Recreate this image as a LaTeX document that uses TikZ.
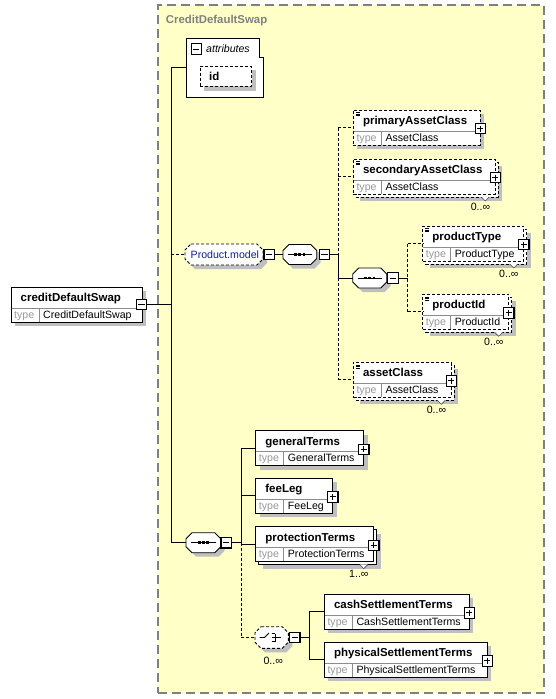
\documentclass[tikz,border=0pt]{standalone}
\usepackage{fontspec}
\setmainfont{Liberation Sans}
\definecolor{bgyellow}{HTML}{FFFFC8}
\definecolor{navytext}{HTML}{10208A}
\tikzset{
 elbox/.style={draw=black, fill=white, line width=0.9pt, inner sep=0pt, outer sep=0pt},
 optb/.style={dash pattern=on 3pt off 2pt},
 dropshadow/.style={fill=black!25},
 divl/.style={draw=black!45, line width=0.6pt},
 pmbox/.style={draw=black, fill=white, line width=1.1pt, minimum size=10.5pt, inner sep=0pt, outer sep=0pt},
 conn/.style={draw=black, line width=0.9pt},
 dconn/.style={conn, dash pattern=on 3pt off 2pt},
 nm/.style={font=\fontsize{11.5}{13}\selectfont\bfseries, inner sep=0pt, anchor=base west},
 ty/.style={font=\fontsize{10.6}{12}\selectfont, text=black!40, inner sep=0pt, anchor=base west},
 tv/.style={font=\fontsize{10.6}{12}\selectfont, inner sep=0pt, anchor=base west},
 mult/.style={font=\fontsize{10.6}{12}\selectfont, inner sep=0pt, anchor=base east},
 anchorbox/.style={inner sep=0pt, outer sep=0pt, anchor=north west},
}
% element box: name, x, y, width, border style, title, type, stacked, icon
\newcommand\elem[9]{%
  \ifnum#8=1
    \fill[dropshadow] (#2+7,#3+7) rectangle ++(#4,35);
    \draw[elbox,#5] (#2+3,#3+3) rectangle ++(#4,35);
  \else
    \fill[dropshadow] (#2+4,#3+4) rectangle ++(#4,35);
  \fi
  \node[elbox,#5,anchorbox,minimum width=#4pt,minimum height=35pt] (#1) at (#2,#3) {};
  \draw[divl] (#2+0.5,#3+21) -- (#2+#4-0.5,#3+21);
  \draw[divl] (#2+28,#3+21) -- (#2+28,#3+34.5);
  \node[nm] (#1-n) at (#2+9.5,#3+14.5) {#6};
  \node[ty] (#1-k) at (#2+3,#3+31) {type};
  \node[tv] (#1-v) at (#2+32,#3+31) {#7};
  \ifnum#9=1
    \draw[line width=0.5pt] (#2+2.5,#3+2.5) -- ++(4,0) (#2+2.5,#3+4) -- ++(4,0) (#2+2.5,#3+5.5) -- ++(4,0);
  \fi
}
\newcommand\plusb[3]{%
  \node[pmbox] (#1) at (#2,#3) {};
  \draw[line width=1pt] ([xshift=2.2pt]#1.west) -- ([xshift=-2.2pt]#1.east)
    ([yshift=-2.2pt]#1.north) -- ([yshift=2.2pt]#1.south);
}
\newcommand\minusb[3]{%
  \node[pmbox] (#1) at (#2,#3) {};
  \draw[line width=1pt] ([xshift=2.2pt]#1.west) -- ([xshift=-2.2pt]#1.east);
}
% multiplicity: name, right x, top y, text
\newcommand\multi[4]{%
  \fill[white] (#2-14,#3+37.6) -- (#2-10,#3+42) -- (#2-6,#3+37.6) -- cycle;
  \draw[black!70, line width=0.6pt] (#2-14,#3+38) -- (#2-10,#3+42) -- (#2-6,#3+38);
  \node[mult] (#1-m) at (#2-5,#3+51) {#4};
}
% compositor: name, x, y, w, h, style
\newcommand\compo[6]{%
  \fill[dropshadow] (#2+10,#3+4) -- (#2+#4-2,#3+4) -- (#2+#4+4,#3+10) -- (#2+#4+4,#3+#5-2)
    -- (#2+#4-2,#3+#5+4) -- (#2+10,#3+#5+4) -- (#2+4,#3+#5-2) -- (#2+4,#3+10) -- cycle;
  \draw[elbox,#6] (#2+6,#3) -- (#2+#4-6,#3) -- (#2+#4,#3+6) -- (#2+#4,#3+#5-6)
    -- (#2+#4-6,#3+#5) -- (#2+6,#3+#5) -- (#2,#3+#5-6) -- (#2,#3+6) -- cycle;
  \node[anchorbox, minimum width=#4pt, minimum height=#5pt] (#1) at (#2,#3) {};
}
\newcommand\seqicon[1]{%
  \draw[line width=0.9pt] ([xshift=5pt]#1.west) -- ([xshift=-4.5pt]#1.east);
  \foreach \dx in {-4.2,0,4.2}{
    \fill ([xshift=\dx pt-1.4pt,yshift=-1.4pt]#1.center) rectangle ([xshift=\dx pt+1.4pt,yshift=1.4pt]#1.center);
  }
}
\begin{document}
\begin{tikzpicture}[x=1pt,y=-1pt]
\useasboundingbox (0,0) rectangle (555,699);
\fill[white] (0,0) rectangle (555,699);
% frame
\node[anchorbox, fill=bgyellow, draw=black!50, line width=1.2pt, dash pattern=on 9pt off 5pt,
      minimum width=386pt, minimum height=688pt] (frame) at (158,5) {};
\node[font=\fontsize{11.4}{13}\selectfont\bfseries, text=black!50, inner sep=0pt, anchor=base west]
   (frame-t) at (165.7,23) {CreditDefaultSwap};

% root element
\elem{cds}{11}{287}{131}{}{creditDefaultSwap}{CreditDefaultSwap}{0}{0}
\minusb{cds-m}{141.5}{304.5}

% attributes
\draw[elbox] (186,38) -- (259,38) -- (259,57) -- (263,57) -- (263,97) -- (186,97) -- cycle;
\node[anchorbox, minimum width=77pt, minimum height=59pt] (attr) at (186,38) {};
\minusb{attr-m}{196.3}{49}
\node[font=\fontsize{10.6}{12}\selectfont\itshape, inner sep=0pt, anchor=base west] (attr-t) at (206,52.5) {attributes};
\fill[dropshadow] (204,70) rectangle (256,90.5);
\node[elbox, optb, anchorbox, minimum width=51.7pt, minimum height=20pt] (idbox) at (200,66) {};
\node[nm] (id-t) at (209,80.5) {id};

% Product.model group
\compo{pmodel}{185}{244}{78}{21}{optb}
\node[font=\fontsize{10.6}{12}\selectfont, text=navytext, inner sep=0pt, anchor=base west] (pmodel-t) at (190.5,258) {Product.model};
\minusb{pmodel-m}{269.2}{254.5}

% sequences
\compo{seq1}{283}{244.5}{33.7}{20}{}
\seqicon{seq1}
\minusb{seq1-m}{324.5}{254.5}
\compo{seq2}{352.7}{268}{34}{20}{}
\seqicon{seq2}
\minusb{seq2-m}{393}{278}
\compo{seq3}{186}{532.7}{34.7}{20}{}
\seqicon{seq3}
\minusb{seq3-m}{226.2}{542.7}

% choice
\compo{choice}{255}{626.7}{33.3}{21.6}{optb}
\draw[line width=0.9pt] (259.5,637.5) -- (264.5,637.5) -- (269,633);
\draw[line width=0.9pt] (271.5,633.5) -- (275,633.5) (271.5,637.5) -- (275,637.5) (271.5,641.5) -- (275,641.5)
   (275,633.5) -- (275,641.5) (275,637.5) -- (281,637.5);
\minusb{choice-m}{294.7}{637.5}
\node[mult, anchor=base west] (choice-mm) at (263.3,664) {0..∞};

% Product.model children
\elem{pac}{353.3}{110}{127}{optb}{primaryAssetClass}{AssetClass}{0}{1}
\plusb{pac-p}{480.3}{128.6}
\elem{sac}{353.3}{159}{142}{optb}{secondaryAssetClass}{AssetClass}{1}{1}
\plusb{sac-p}{495.3}{177.6}
\multi{sac}{495.3}{159}{0..∞}
\elem{ptype}{422.7}{226}{101}{optb}{productType}{ProductType}{1}{1}
\plusb{ptype-p}{523.7}{244.6}
\multi{ptype}{523.7}{226}{0..∞}
\elem{pid}{422.7}{294.3}{86}{optb}{productId}{ProductId}{1}{1}
\plusb{pid-p}{508.7}{312.9}
\multi{pid}{508.7}{294.3}{0..∞}
\elem{ac}{353.3}{362.3}{98}{optb}{assetClass}{AssetClass}{1}{1}
\plusb{ac-p}{451.3}{380.9}
\multi{ac}{451.3}{362.3}{0..∞}

% main sequence children
\elem{gt}{255.7}{430.7}{108}{}{generalTerms}{GeneralTerms}{0}{0}
\plusb{gt-p}{363.7}{449.3}
\elem{fl}{255.7}{478.3}{77}{}{feeLeg}{FeeLeg}{0}{0}
\plusb{fl-p}{332.7}{496.9}
\elem{prt}{255.7}{526.7}{118}{}{protectionTerms}{ProtectionTerms}{1}{0}
\plusb{prt-p}{373.7}{545.3}
\multi{prt}{373.7}{526.7}{1..∞}

% choice children
\elem{cst}{324.3}{594.3}{145}{}{cashSettlementTerms}{CashSettlementTerms}{0}{0}
\plusb{cst-p}{469.3}{612.9}
\elem{pst}{324.3}{642.3}{163}{}{physicalSettlementTerms}{PhysicalSettlementTerms}{0}{0}
\plusb{pst-p}{487.3}{660.9}

% buses
\coordinate (busA) at (171,0);
\coordinate (busB) at (338.3,0);
\coordinate (busC) at (407.5,0);
\coordinate (busD) at (241,0);
\coordinate (busE) at (309.3,0);

% connectors
\draw[conn] (cds-m.east) -- (cds-m.east -| busA);
\draw[conn] (busA |- attr.west) -- (busA |- seq3.west);
\draw[conn] (busA |- attr.west) -- (attr.west);
\draw[dconn] (busA |- pmodel.west) -- (pmodel.west);
\draw[conn] (busA |- seq3.west) -- (seq3.west);
\draw[conn] (pmodel-m.east) -- (seq1.west);

\draw[conn] (seq1-m.east) -- (seq1-m.east -| busB);
\draw[dconn] (busB |- pac.west) -- (busB |- seq1-m.east);
\draw[conn] (busB |- seq1-m.east) -- (busB |- seq2.west);
\draw[dconn] (busB |- seq2.west) -- (busB |- ac.west);
\draw[dconn] (busB |- pac.west) -- (pac.west);
\draw[dconn] (busB |- sac.west) -- (sac.west);
\draw[conn] (busB |- seq2.west) -- (seq2.west);
\draw[dconn] (busB |- ac.west) -- (ac.west);

\draw[conn] (seq2-m.east) -- (seq2-m.east -| busC);
\draw[dconn] (busC |- ptype.west) -- (busC |- pid.west);
\draw[dconn] (busC |- ptype.west) -- (ptype.west);
\draw[dconn] (busC |- pid.west) -- (pid.west);

\draw[conn] (seq3-m.east) -- (seq3-m.east -| busD);
\draw[conn] (busD |- gt.west) -- (busD |- seq3-m.east);
\draw[dconn] (busD |- seq3-m.east) -- (busD |- choice.west);
\draw[conn] (busD |- gt.west) -- (gt.west);
\draw[conn] (busD |- fl.west) -- (fl.west);
\draw[conn] (busD |- prt.west) -- (prt.west);
\draw[dconn] (busD |- choice.west) -- (choice.west);

\draw[conn] (choice-m.east) -- (choice-m.east -| busE);
\draw[conn] (busE |- cst.west) -- (busE |- pst.west);
\draw[conn] (busE |- cst.west) -- (cst.west);
\draw[conn] (busE |- pst.west) -- (pst.west);
\end{tikzpicture}
\end{document}
